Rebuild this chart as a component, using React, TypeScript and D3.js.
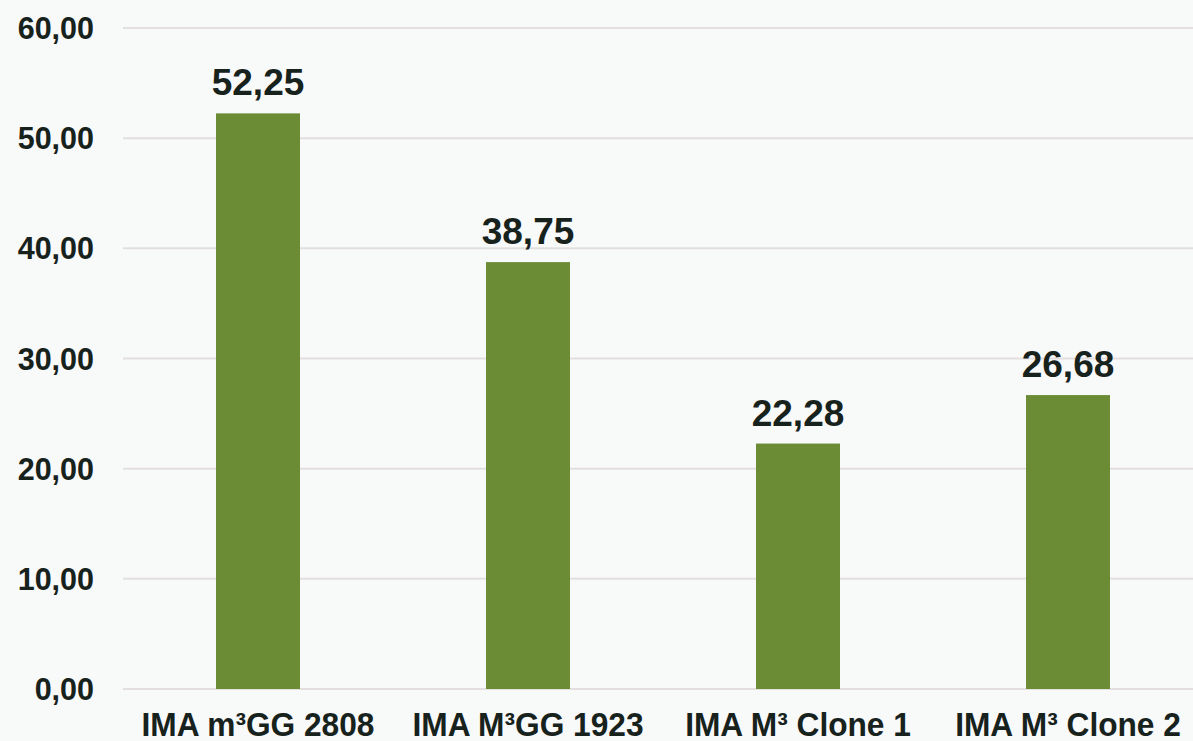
import React from "react";
import * as d3 from "d3";

const categories = ["IMA m³GG 2808", "IMA M³GG 1923", "IMA M³ Clone 1", "IMA M³ Clone 2"];
const values = [52.25, 38.75, 22.28, 26.68];
const yTicks = [0, 10, 20, 30, 40, 50, 60];

const W = 1193;
const H = 741;
const fmt = (v: number) => d3.format(".2f")(v).replace(".", ",");

export default function App() {
  const x = d3.scaleBand<string>().domain(categories).range([123, 1203]).paddingInner(0).paddingOuter(0);
  const y = d3.scaleLinear().domain([0, 60]).range([689, 28]);
  const bw = x.bandwidth() * 0.311;
  const font = "'Liberation Sans', Arial, sans-serif";
  const textColor = "#17221d";
  return (
    <svg width={W} height={H} style={{ position: "absolute", left: 0, top: 0, background: "#f8f9f9" }}>
      <rect x={0} y={0} width={W} height={H} fill="#f8f9f9" />
      {yTicks.map((t) => (
        <g key={t}>
          <line x1={123} x2={W} y1={y(t)} y2={y(t)} stroke="#e4dfdf" strokeWidth={2} />
          <text x={94} y={y(t) + 11} textAnchor="end" fontFamily={font} fontWeight="bold" fontSize={30.5} fill={textColor}>
            {fmt(t)}
          </text>
        </g>
      ))}
      {categories.map((c, i) => {
        const cx = (x(c) as number) + x.bandwidth() / 2;
        return (
          <g key={c}>
            <rect x={cx - bw / 2} y={y(values[i])} width={bw} height={y(0) - y(values[i])} fill="#6b8b35" />
            <text x={cx} y={y(values[i]) - 18} textAnchor="middle" fontFamily={font} fontWeight="bold" fontSize={37} fill={textColor}>
              {fmt(values[i])}
            </text>
            <text transform={`translate(${cx},736) scale(0.96,1)`} textAnchor="middle" fontFamily={font} fontWeight="bold" fontSize={33} fill={textColor}>
              {c}
            </text>
          </g>
        );
      })}
    </svg>
  );
}
